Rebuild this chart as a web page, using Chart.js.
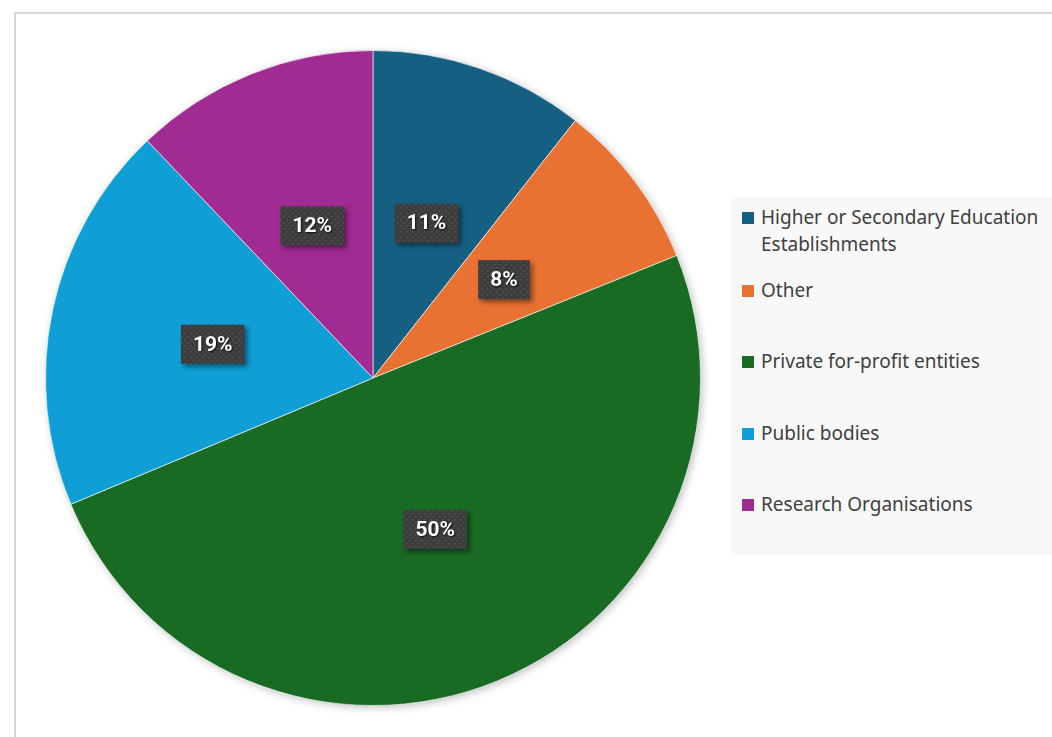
<!DOCTYPE html>
<html>
<head>
<meta charset="utf-8">
<script src="https://cdn.jsdelivr.net/npm/chart.js@4.4.1/dist/chart.umd.min.js"></script>
<style>
    body { margin: 0; background: #fff; width: 1052px; height: 737px; overflow: hidden; position: relative; font-family: "Noto Sans", sans-serif; }
    #frame { position: absolute; left: 14px; top: 12px; width: 1100px; height: 800px; border: 2px solid #d6d6d6; box-sizing: border-box; }
    #pieWrap { position: absolute; left: 25px; top: 30px; width: 696px; height: 696px; }
    #legend { position: absolute; left: 730px; top: 197px; width: 340px; height: 358px; background: #f8f8f8; }
    .item { position: absolute; left: 12px; display: flex; align-items: flex-start; color: #404040; font-size: 19px; line-height: 27px; }
    .box { width: 12px; height: 12px; margin-top: 8px; margin-right: 7px; flex: none; }
</style>
</head>
<body>
<div id="frame"></div>
<div id="pieWrap"><canvas id="myChart" width="696" height="696"></canvas></div>
<div id="legend"></div>
<script>
// categories and shares (percent)
const categories = ['Higher or Secondary Education Establishments', 'Other', 'Private for-profit entities', 'Public bodies', 'Research Organisations'];
const legendLines = [['Higher or Secondary Education', 'Establishments'], ['Other'], ['Private for-profit entities'], ['Public bodies'], ['Research Organisations']];
const shares = [10.6, 8.3, 49.8, 19.2, 12.1];
const sliceColors = ['#156082', '#E97132', '#196B24', '#0F9ED5', '#A02B93'];
const legendTops = [7, 80, 151, 223, 294];

document.addEventListener('DOMContentLoaded', function () {
    // html legend
    const legendEl = document.getElementById('legend');
    categories.forEach(function (c, i) {
        const item = document.createElement('div');
        item.className = 'item';
        item.style.top = legendTops[i] + 'px';
        item.innerHTML = '<span class="box" style="background:' + sliceColors[i] + '"></span><span>' + legendLines[i].join('<br>') + '</span>';
        legendEl.appendChild(item);
    });

    // dotted fill for the label boxes
    function makePattern(ctx) {
        const p = document.createElement('canvas');
        p.width = 6; p.height = 6;
        const pc = p.getContext('2d');
        pc.fillStyle = '#3d3d3d';
        pc.fillRect(0, 0, 6, 6);
        pc.fillStyle = '#5a5050';
        pc.fillRect(0, 0, 1.5, 1.5);
        pc.fillRect(3, 3, 1.5, 1.5);
        return ctx.createPattern(p, 'repeat');
    }

    const pieShadow = {
        id: 'pieShadow',
        beforeDatasetsDraw(chart) {
            const arc = chart.getDatasetMeta(0).data[0];
            if (!arc) return;
            const ctx = chart.ctx;
            ctx.save();
            ctx.shadowColor = 'rgba(0,0,0,0.3)';
            ctx.shadowBlur = 10;
            ctx.shadowOffsetX = 2;
            ctx.shadowOffsetY = 2;
            ctx.fillStyle = '#ffffff';
            ctx.beginPath();
            ctx.arc(arc.x, arc.y, arc.outerRadius - 1, 0, Math.PI * 2);
            ctx.fill();
            ctx.restore();
        }
    };

    const boxLabels = {
        id: 'boxLabels',
        afterDatasetsDraw(chart) {
            const ctx = chart.ctx;
            const data = chart.data.datasets[0].data;
            const total = data.reduce((a, b) => a + b, 0);
            const pattern = makePattern(ctx);
            chart.getDatasetMeta(0).data.forEach(function (arc, i) {
                const pos = arc.tooltipPosition();
                const text = Math.round(data[i] / total * 100) + '%';
                ctx.save();
                ctx.font = 'bold 21px Roboto';
                const w = ctx.measureText(text).width + 24;
                const h = 39;
                ctx.shadowColor = 'rgba(0,0,0,0.45)';
                ctx.shadowBlur = 5;
                ctx.shadowOffsetX = 3;
                ctx.shadowOffsetY = 3;
                ctx.fillStyle = pattern;
                ctx.fillRect(pos.x - w / 2, pos.y - h / 2, w, h);
                ctx.shadowColor = 'rgba(0,0,0,0.8)';
                ctx.shadowBlur = 2;
                ctx.shadowOffsetX = 1;
                ctx.shadowOffsetY = 1;
                ctx.fillStyle = '#ffffff';
                ctx.textAlign = 'center';
                ctx.textBaseline = 'middle';
                ctx.fillText(text, pos.x, pos.y + 1);
                ctx.restore();
            });
        }
    };

    const ctx = document.getElementById('myChart').getContext('2d');
    new Chart(ctx, {
        type: 'pie',
        data: {
            labels: categories,
            datasets: [{
                data: shares,
                backgroundColor: sliceColors,
                borderColor: 'rgba(255,255,255,0.6)',
                borderWidth: 1
            }]
        },
        options: {
            responsive: false,
            animation: false,
            layout: { padding: 20 },
            plugins: {
                legend: { display: false },
                tooltip: { enabled: false }
            }
        },
        plugins: [pieShadow, boxLabels]
    });
});
</script>
</body>
</html>
